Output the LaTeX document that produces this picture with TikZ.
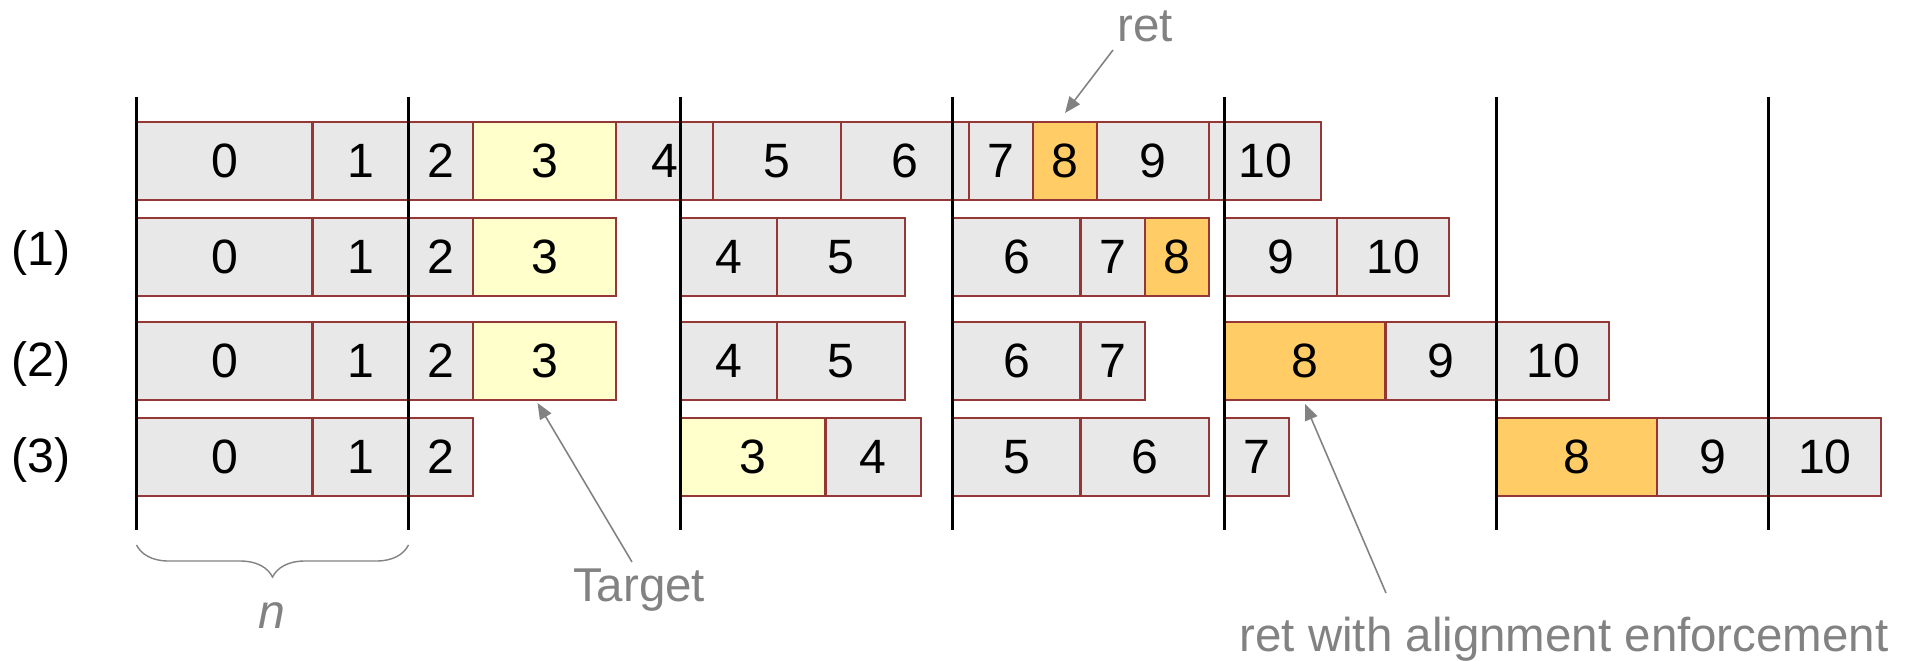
\documentclass[tikz,border=0pt]{standalone}
\usepackage{fontspec}
\setmainfont{Liberation Sans}
\usetikzlibrary{arrows.meta,decorations.pathreplacing}
\definecolor{cellgray}{HTML}{E8E8E8}
\definecolor{cellborder}{HTML}{953735}
\definecolor{cellyellow}{HTML}{FFFFCC}
\definecolor{cellorange}{HTML}{FFCC66}
\definecolor{notegray}{HTML}{828282}
\newcommand{\cellnode}[6]{%
  \pgfmathsetmacro\cellw{((#3)-(#2))/100}%
  \node[cell,#6,minimum width=\cellw cm] (#1) at (#2,#4) {#5};}
\begin{document}
\begin{tikzpicture}[x=0.01cm,y=-0.01cm,
  cell/.style={draw=cellborder, line width=0.6pt, fill=cellgray, minimum height=0.78cm,
    inner sep=0pt, outer sep=0pt, anchor=west, font=\fontsize{13.7}{16}\selectfont},
  plain/.style={},
  tgt/.style={fill=cellyellow},
  rt/.style={fill=cellorange},
  rowlabel/.style={font=\fontsize{13.7}{16}\selectfont, inner sep=0pt},
  note/.style={text=notegray, font=\fontsize{13.5}{16}\selectfont, inner sep=0pt, anchor=base},
  arr/.style={draw=notegray, line width=0.45pt, -{Triangle[length=0.16cm,width=0.13cm]}, fill=none},
  boundary/.style={line width=0.85pt, black},
  bracestyle/.style={draw=notegray, line width=0.4pt, decorate,
    decoration={brace, amplitude=0.32cm}}]
\useasboundingbox (0,0) rectangle (1912,661);
% row 0
\cellnode{a0}{136.5}{312.5}{161}{0}{plain}
\cellnode{a1}{312.5}{408.5}{161}{1}{plain}
\cellnode{a2}{408.5}{473}{161}{2}{plain}
\cellnode{a3}{473}{616}{161}{3}{tgt}
\cellnode{a4}{616}{713}{161}{4}{plain}
\cellnode{a5}{713}{841}{161}{5}{plain}
\cellnode{a6}{841}{969}{161}{6}{plain}
\cellnode{a7}{969}{1033}{161}{7}{plain}
\cellnode{a8}{1033}{1097}{161}{8}{rt}
\cellnode{a9}{1097}{1209}{161}{9}{plain}
\cellnode{a10}{1209}{1321}{161}{10}{plain}
% row 1
\cellnode{b0}{136.5}{312.5}{257}{0}{plain}
\cellnode{b1}{312.5}{408.5}{257}{1}{plain}
\cellnode{b2}{408.5}{473}{257}{2}{plain}
\cellnode{b3}{473}{616}{257}{3}{tgt}
\cellnode{b4}{680.5}{777}{257}{4}{plain}
\cellnode{b5}{777}{905}{257}{5}{plain}
\cellnode{b6}{952.5}{1080.5}{257}{6}{plain}
\cellnode{b7}{1080.5}{1145}{257}{7}{plain}
\cellnode{b8}{1145}{1209}{257}{8}{rt}
\cellnode{b9}{1224.5}{1337}{257}{9}{plain}
\cellnode{b10}{1337}{1449}{257}{10}{plain}
% row 2
\cellnode{c0}{136.5}{312.5}{361}{0}{plain}
\cellnode{c1}{312.5}{408.5}{361}{1}{plain}
\cellnode{c2}{408.5}{473}{361}{2}{plain}
\cellnode{c3}{473}{616}{361}{3}{tgt}
\cellnode{c4}{680.5}{777}{361}{4}{plain}
\cellnode{c5}{777}{905}{361}{5}{plain}
\cellnode{c6}{952.5}{1080.5}{361}{6}{plain}
\cellnode{c7}{1080.5}{1145}{361}{7}{plain}
\cellnode{c8}{1224.5}{1385.5}{361}{8}{rt}
\cellnode{c9}{1385.5}{1497}{361}{9}{plain}
\cellnode{c10}{1497}{1609}{361}{10}{plain}
% row 3
\cellnode{d0}{136.5}{312.5}{457}{0}{plain}
\cellnode{d1}{312.5}{408.5}{457}{1}{plain}
\cellnode{d2}{408.5}{473}{457}{2}{plain}
\cellnode{d3}{680.5}{825.5}{457}{3}{tgt}
\cellnode{d4}{825.5}{921}{457}{4}{plain}
\cellnode{d5}{952.5}{1080.5}{457}{5}{plain}
\cellnode{d6}{1080.5}{1209}{457}{6}{plain}
\cellnode{d7}{1224.5}{1289}{457}{7}{plain}
\cellnode{d8}{1496.5}{1657}{457}{8}{rt}
\cellnode{d9}{1657}{1768.5}{457}{9}{plain}
\cellnode{d10}{1768.5}{1881}{457}{10}{plain}
% alignment boundaries
\foreach \k in {0,...,6}{
  \coordinate (t\k) at (136.5+272*\k,97);
  \coordinate (u\k) at (136.5+272*\k,530);
  \draw[boundary] (t\k) -- (u\k);
}
% row labels
\node[rowlabel] (l1) at (41,253) {(1)};
\node[rowlabel] (l2) at (41,364) {(2)};
\node[rowlabel] (l3) at (41,460) {(3)};
% brace and n
\coordinate (br) at (408.5,545);
\coordinate (bl) at (136.5,545);
\draw[bracestyle] (br) -- (bl);
\node[note, font=\fontsize{13.7}{16}\selectfont\itshape] (nlab) at (272,628) {n};
% notes
\node[note] (retlab) at (1145,42) {ret};
\node[note] (target) at (639,601) {Target};
\node[note] (retal) at (1564,651) {ret with alignment enforcement};
\coordinate (retstart) at (1113,50);
\coordinate (tgtstart) at (632,562);
\coordinate (retalstart) at (1386,593);
\draw[arr] (retstart) -- ([yshift=0.09cm]a8.north);
\draw[arr] (tgtstart) -- ([xshift=-0.07cm,yshift=-0.03cm]c3.south);
\draw[arr] (retalstart) -- ([yshift=-0.04cm]c8.south);
\end{tikzpicture}
\end{document}
